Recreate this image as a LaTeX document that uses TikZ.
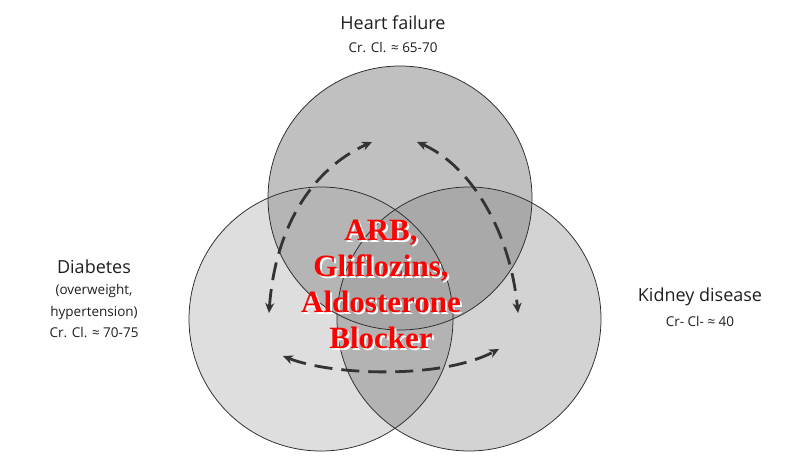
\documentclass[tikz,border=0pt]{standalone}
\usepackage{fontspec}
\setmainfont{Liberation Serif}
\newfontfamily\labelfont{Open Sans}
\usetikzlibrary{arrows.meta}
\definecolor{cT}{HTML}{C0C0C0}
\definecolor{cL}{HTML}{DEDEDE}
\definecolor{cR}{HTML}{D3D3D3}
\definecolor{cTL}{HTML}{B5B5B5}
\definecolor{cTR}{HTML}{A9A9A9}
\definecolor{cLR}{HTML}{B3B3B3}
\definecolor{cTLR}{HTML}{A7A7A7}
\definecolor{arrowgray}{HTML}{333333}
\definecolor{rimgray}{HTML}{2A2A2A}
\tikzset{
  rim/.style={draw=rimgray, line width=0.75pt},
  cycle arrow/.style={draw=arrowgray, line width=2.8pt, dash pattern=on 18pt off 9pt,
     {Stealth[length=10pt,width=9pt]}-{Stealth[length=10pt,width=9pt]}},
  bigname/.style={font=\labelfont\fontsize{18}{21}\selectfont, text=black!88},
  smallname/.style={font=\labelfont\fontsize{13.5}{21.5}\selectfont, text=black!88, align=center},
  drugtext/.style={font=\bfseries\fontsize{31}{36}\selectfont, align=center, inner sep=0pt},
}
\begin{document}
\begin{tikzpicture}[x=1pt,y=-1pt]
\useasboundingbox[fill=white] (0,0) rectangle (800,460);
\def\rr{132}
\coordinate (T) at (400,198);
\coordinate (L) at (321,319);
\coordinate (R) at (469,319);
% region fills
\fill[cL] (L) circle (\rr);
\fill[cR] (R) circle (\rr);
\fill[cT] (T) circle (\rr);
\begin{scope}\clip (L) circle (\rr); \fill[cLR] (R) circle (\rr); \end{scope}
\begin{scope}\clip (T) circle (\rr); \fill[cTL] (L) circle (\rr); \end{scope}
\begin{scope}\clip (T) circle (\rr); \fill[cTR] (R) circle (\rr); \end{scope}
\begin{scope}\clip (T) circle (\rr); \clip (L) circle (\rr); \fill[cTLR] (R) circle (\rr); \end{scope}
% outlines
\draw[rim] (L) circle (\rr);
\draw[rim] (R) circle (\rr);
\draw[rim] (T) circle (\rr);
% arrow end points
\coordinate (a1) at (269,313);
\coordinate (a2) at (372,142);
\coordinate (b1) at (417,142);
\coordinate (b2) at (518,313);
\coordinate (c1) at (283,356);
\coordinate (c2) at (499,349);
\draw[cycle arrow] (a1) .. controls (275,230) and (310,170) .. (a2);
\draw[cycle arrow] (b1) .. controls (470,165) and (510,230) .. (b2);
\draw[cycle arrow] (c1) .. controls (330,375) and (440,380) .. (c2);
% labels
\node[bigname] (hf) at (393,23) {Heart failure};
\node[smallname] (hfcc) at (393,47) {Cr. Cl. ≈ 65-70};
\node[bigname] (db) at (94,267) {Diabetes};
\node[smallname, anchor=north] (dbcc) at (94,281) {(overweight,\\hypertension)\\Cr. Cl. ≈ 70-75};
\node[bigname] (kd) at (700,297) {Kidney disease};
\node[smallname] (kdcc) at (700,321) {Cr- Cl- ≈ 40};
% central drug text with white shadow
\node[drugtext, text=white] (drugshadow) at (383,286) {ARB,\\Gliflozins,\\Aldosterone\\Blocker};
\node[drugtext, text=red] (drug) at (381,284) {ARB,\\Gliflozins,\\Aldosterone\\Blocker};
\end{tikzpicture}
\end{document}
